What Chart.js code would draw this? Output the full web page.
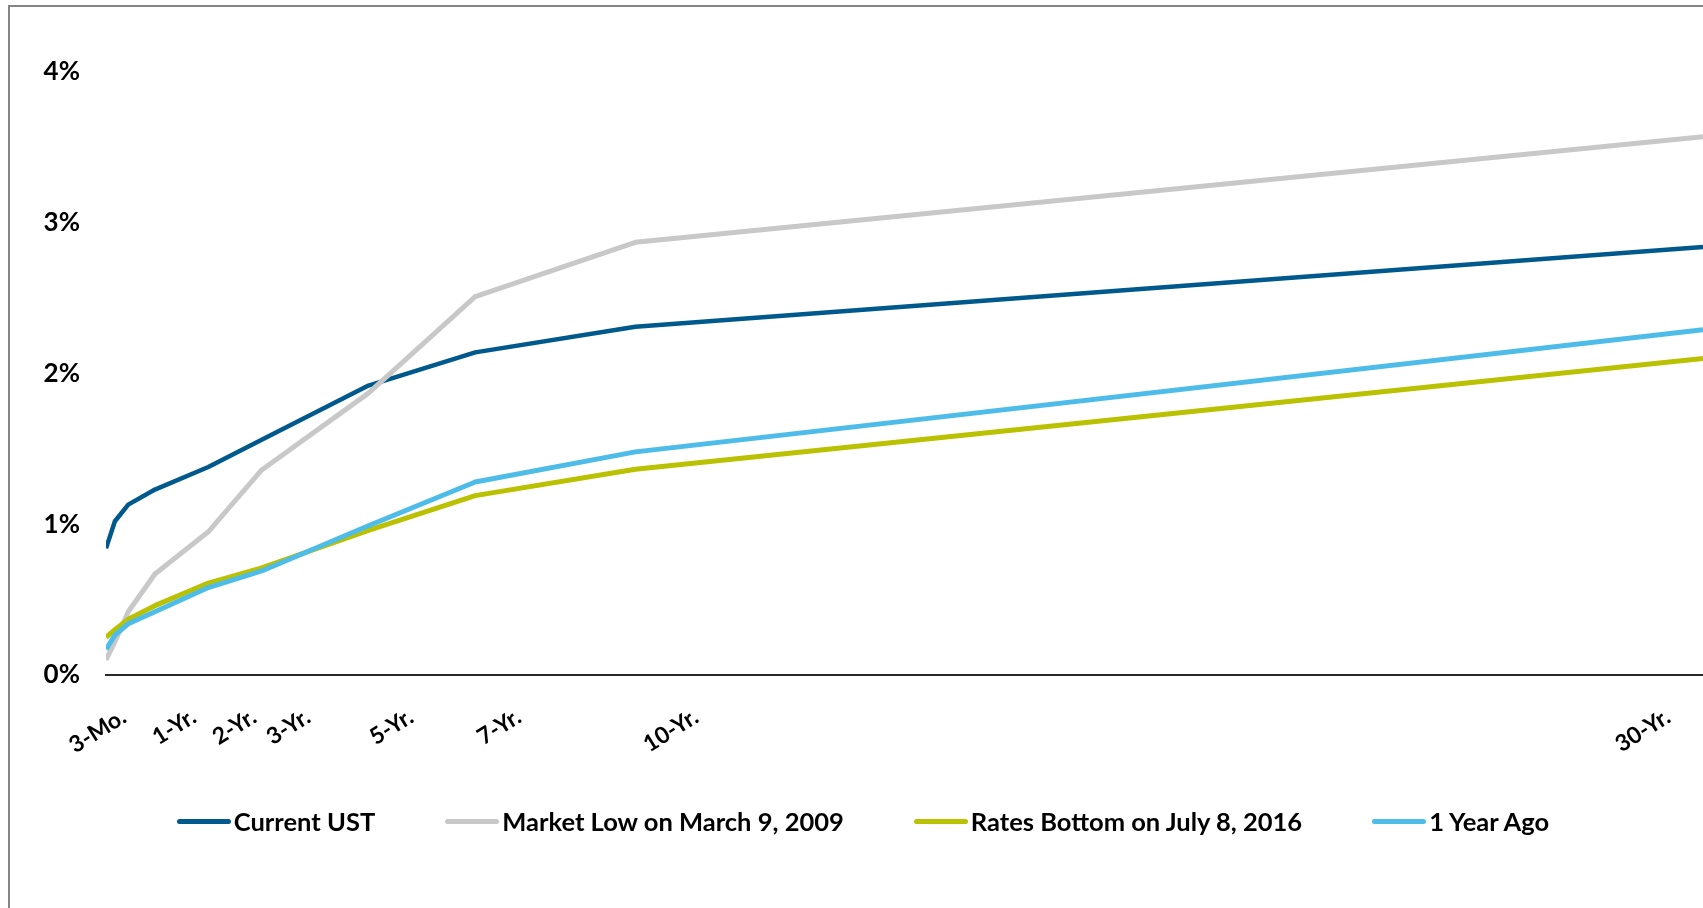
<!DOCTYPE html>
<html>
<head>
<meta charset="utf-8">
<title>Treasury yield curves</title>
<script src="https://cdn.jsdelivr.net/npm/chart.js@4.4.1/dist/chart.umd.min.js"></script>
<style>
  html, body { margin: 0; padding: 0; background: #fff; }
  #wrap { position: relative; width: 1703px; height: 908px; overflow: hidden; }
  #frame { position: absolute; left: 8px; top: 5px; right: -10px; bottom: -10px;
           border-left: 2px solid #858585; border-top: 2px solid #858585; }
  #curve { position: absolute; left: 0; top: 0; }
  #legend { position: absolute; left: 0; top: 806px; width: 1726px; display: flex;
            justify-content: center; gap: 70px; font: bold 25.5px Lato, sans-serif;
            line-height: 30px; color: #000; }
  .item { display: flex; align-items: center; white-space: nowrap; }
  .swatch { width: 54px; height: 5px; border-radius: 3px; margin-right: 3px; }
</style>
</head>
<body>
<div id="wrap">
  <div id="frame"></div>
  <canvas id="curve" width="1703" height="908"></canvas>
  <div id="legend"></div>
</div>
<script>
// maturities in years: 1-mo, 3-mo, 6-mo, 1, 2, 3, 5, 7, 10, 30
const tenors = [1 / 12, 0.25, 0.5, 1, 2, 3, 5, 7, 10, 30];

const seriesNames = ['Current UST', 'Market Low on March 9, 2009', 'Rates Bottom on July 8, 2016', '1 Year Ago'];
const currentUST = [0.84, 1.02, 1.13, 1.23, 1.38, 1.56, 1.92, 2.14, 2.31, 2.84];
const marketLow2009 = [0.10, 0.22, 0.42, 0.67, 0.95, 1.36, 1.87, 2.51, 2.87, 3.57];
const ratesBottom2016 = [0.25, 0.30, 0.37, 0.46, 0.61, 0.71, 0.96, 1.19, 1.365, 2.10];
const oneYearAgo = [0.17, 0.265, 0.34, 0.42, 0.58, 0.69, 0.99, 1.28, 1.48, 2.29];

const tickLabels = ['3-Mo.', '1-Yr.', '2-Yr.', '3-Yr.', '5-Yr.', '7-Yr.', '10-Yr.', '30-Yr.'];
const tickTenors = [0.25, 1, 2, 3, 5, 7, 10, 30];

const toPoints = values => values.map((v, i) => ({ x: tenors[i], y: v }));
const labelFont = { family: 'Lato', size: 23, weight: 'bold' };

const chart = new Chart(document.getElementById('curve').getContext('2d'), {
    type: 'line',
    data: {
        datasets: [
            { label: seriesNames[0], data: toPoints(currentUST), borderColor: '#00598c', borderWidth: 4.5, order: 4 },
            { label: seriesNames[1], data: toPoints(marketLow2009), borderColor: '#c8c8c8', borderWidth: 5, order: 3 },
            { label: seriesNames[2], data: toPoints(ratesBottom2016), borderColor: '#bac100', borderWidth: 5, order: 2 },
            { label: seriesNames[3], data: toPoints(oneYearAgo), borderColor: '#4dbce9', borderWidth: 5, order: 1 }
        ]
    },
    options: {
        responsive: false,
        animation: false,
        layout: { padding: { top: 72, right: 0, bottom: 0, left: 0 } },
        elements: {
            point: { radius: 0 },
            line: { tension: 0, borderJoinStyle: 'round' }
        },
        plugins: {
            legend: { display: false },
            tooltip: { enabled: false }
        },
        scales: {
            x: {
                type: 'linear',
                min: tenors[0],
                max: 30,
                grid: { display: false, drawTicks: false },
                border: { display: true, color: '#2a2a2a', width: 2 },
                // labels sit a little to the right of their maturity, 30-Yr. to the left
                afterBuildTicks: scale => {
                    const shift = [0.17, 0.73, 0.86, 0.87, 0.8, 0.82, 1.14, -0.65];
                    scale.ticks = tickTenors.map((t, i) => ({ value: t + shift[i] }));
                },
                // run the plot right up to the canvas edge
                afterFit: scale => {
                    scale.height = 233;
                    scale.paddingLeft = 0;
                    scale.paddingRight = 0;
                },
                ticks: {
                    autoSkip: false,
                    minRotation: 32,
                    maxRotation: 32,
                    padding: 28,
                    color: '#000',
                    font: labelFont,
                    callback: (value, i) => tickLabels[i]
                }
            },
            y: {
                min: 0,
                max: 4,
                grid: { display: false, drawTicks: false },
                border: { display: false },
                afterFit: scale => { scale.width = 106; },
                ticks: {
                    stepSize: 1,
                    padding: 26,
                    color: '#000',
                    font: { family: 'Lato', size: 26, weight: 'bold' },
                    callback: value => value + '%'
                }
            }
        }
    }
});

// legend as html under the plot
const legend = document.getElementById('legend');
chart.data.datasets.forEach(ds => {
    const item = document.createElement('div');
    item.className = 'item';
    const swatch = document.createElement('span');
    swatch.className = 'swatch';
    swatch.style.background = ds.borderColor;
    item.appendChild(swatch);
    item.appendChild(document.createTextNode(ds.label));
    legend.appendChild(item);
});
</script>
</body>
</html>
